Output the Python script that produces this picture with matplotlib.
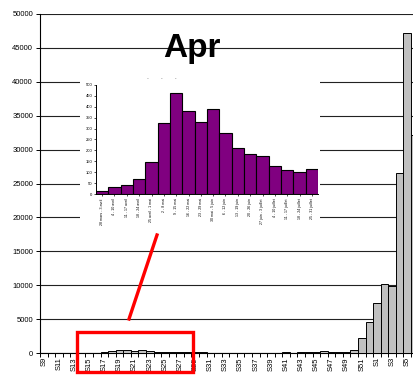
import matplotlib
matplotlib.use("Agg")
import matplotlib.pyplot as plt
import numpy as np
from matplotlib.patches import Rectangle
from matplotlib.lines import Line2D

plt.rcParams['font.family'] = ['Liberation Sans', 'DejaVu Sans']

# weekly counts, inset (week 13 to week 30)
inset_labels = ["28 mars - 3 avril", "4 - 10 avril", "11 - 17 avril", "18 - 24 avril",
                "25 avril - 1 mai", "2 - 8 mai", "9 - 15 mai", "16 - 22 mai",
                "23 - 29 mai", "30 mai - 5 juin", "6 - 12 juin", "13 - 19 juin",
                "20 - 26 juin", "27 juin - 3 juillet", "4 - 10 juillet",
                "11 - 17 juillet", "18 - 24 juillet", "25 - 31 juillet"]
inset_values = [12, 31, 40, 67, 147, 326, 462, 379, 329, 391, 278, 212,
                185, 173, 128, 112, 101, 113]

# main chart weeks S9..S52 then S1..S6
weeks = ['S%d' % w for w in range(9, 53)] + ['S%d' % w for w in range(1, 7)]
early = [0, 0, 0, 0]
late = [20, 20, 20, 20, 20, 20, 20, 20, 20, 20,
        100, 30, 100, 100, 100, 250, 180, 200, 200, 440,
        2200, 4570]
new_year = [7370, 10200, 9900, 26550, 47200, 32150]
main_values = early + inset_values + late + new_year

W, H = 414, 375
fig = plt.figure(figsize=(W / 100, H / 100), dpi=100)

# main chart
ax = fig.add_axes([40 / W, 1 - 353 / H, 378.5 / W, 339 / H])
x = np.arange(len(weeks))
ax.bar(x, main_values, width=1, color='#c0c0c0', edgecolor='black', linewidth=0.7, zorder=3)
ax.set_xlim(-0.5, len(weeks) - 0.5)
ax.set_ylim(0, 50000)
ax.set_yticks(np.arange(0, 50001, 5000))
ax.yaxis.grid(True, color='#222222', linewidth=0.8)
ax.set_axisbelow(True)
for s in ['top', 'right']:
    ax.spines[s].set_visible(False)
ax.set_xticks(np.arange(-0.5, len(weeks), 1))
ax.set_xticklabels([])
ax.set_xticks(x[::2], weeks[::2], minor=True)
ax.tick_params(axis='x', which='major', length=3, width=0.7)
ax.tick_params(axis='x', which='minor', length=0, labelsize=5.5, rotation=90, pad=3)
ax.tick_params(axis='y', length=3, width=0.7, labelsize=5.5, pad=2)

# white area behind the inset
fig.patches.append(Rectangle((80 / W, 1 - 235 / H), 240 / W, 160 / H,
                             transform=fig.transFigure, facecolor='white',
                             edgecolor='none', zorder=1))

# inset
axi = fig.add_axes([96 / W, 1 - 194 / H, 222 / W, 109 / H], zorder=2)
xi = np.arange(len(inset_values))
axi.bar(xi, inset_values, width=1, color='#800080', edgecolor='black', linewidth=0.8)
axi.set_xlim(-0.5, len(inset_values) - 0.5)
axi.set_ylim(0, 500)
axi.set_yticks(np.arange(0, 501, 50))
axi.set_xticks(xi, inset_labels)
for s in ['top', 'right']:
    axi.spines[s].set_visible(False)
axi.spines['left'].set_linewidth(0.7)
axi.spines['bottom'].set_linewidth(0.7)
axi.tick_params(axis='x', length=1.5, width=0.5, labelsize=2.6, rotation=90, pad=1.5)
axi.tick_params(axis='y', length=1.5, width=0.5, labelsize=3, pad=1)

# title and small marks
fig.text(192 / W, 1 - 57 / H, 'Apr', fontsize=24, fontweight='bold',
         ha='center', va='baseline', zorder=3)
fig.text(162 / W, 1 - 78 / H, '-        -        -', fontsize=4, color='#777777',
         ha='center', va='center', zorder=3)

# red highlight
fig.patches.append(Rectangle((77 / W, 1 - 372 / H), 116 / W, 40 / H,
                             transform=fig.transFigure, facecolor='none',
                             edgecolor='#ff0000', linewidth=2.4, zorder=4))
fig.lines.append(Line2D([129 / W, 157 / W], [1 - 319 / H, 1 - 235 / H],
                        transform=fig.transFigure, color='#ff0000',
                        linewidth=2.4, zorder=4))

fig.savefig('out.png', dpi=100)
